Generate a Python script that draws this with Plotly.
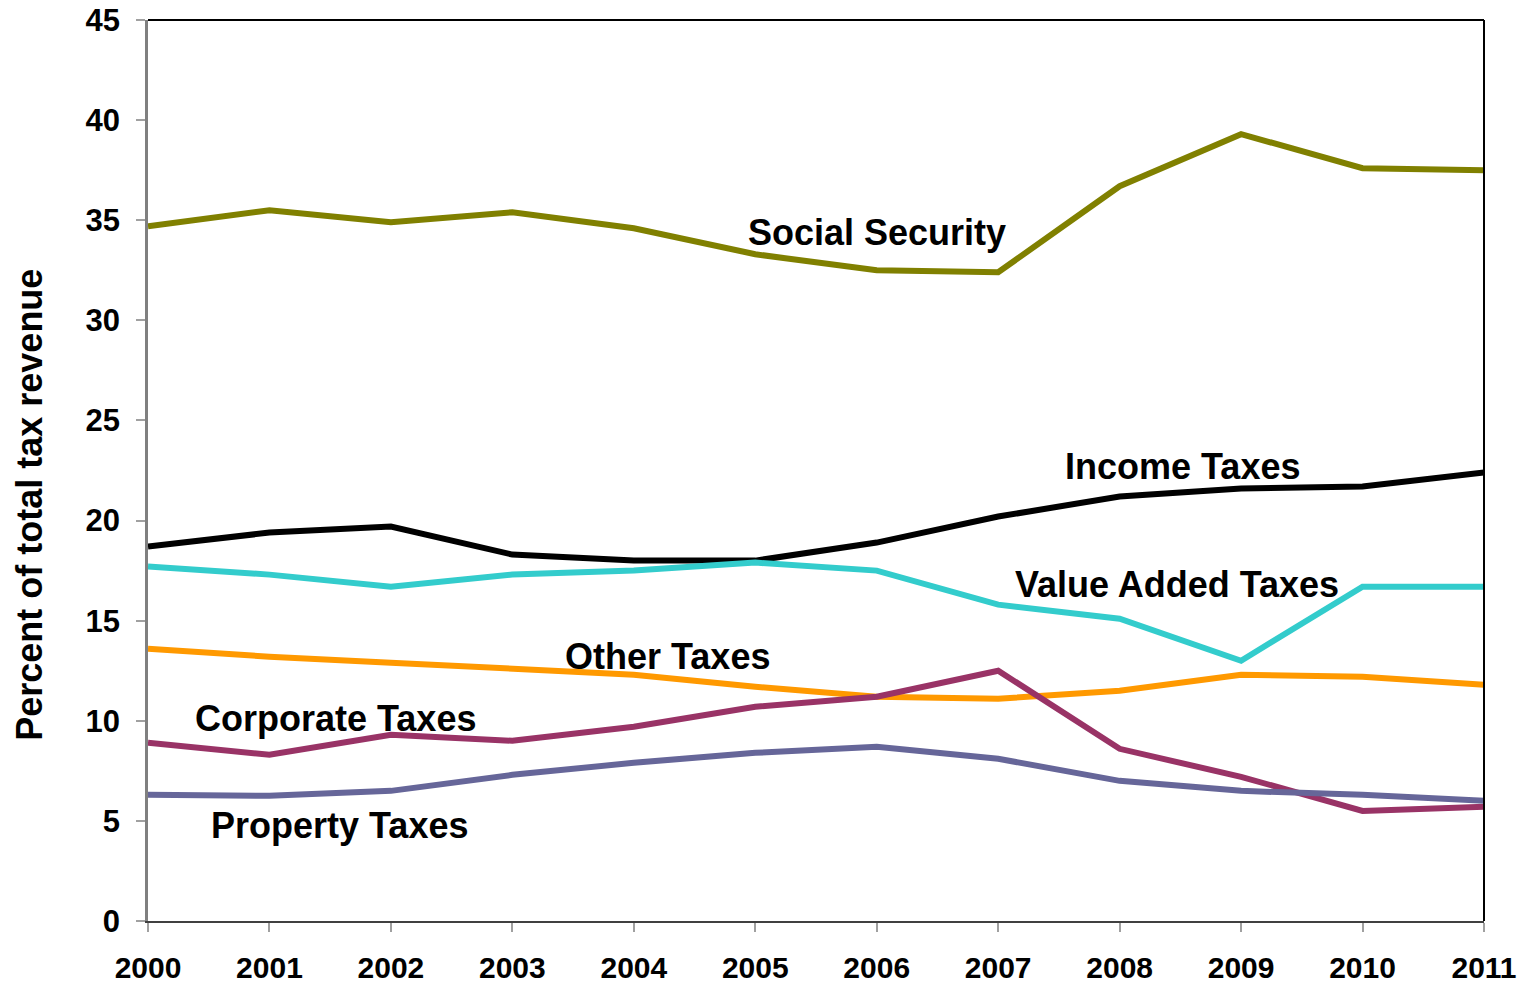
import plotly.graph_objects as go

years = list(range(2000, 2012))

social_security = [34.7, 35.5, 34.9, 35.4, 34.6, 33.3, 32.5, 32.4, 36.7, 39.3, 37.6, 37.5]
income_taxes = [18.7, 19.4, 19.7, 18.3, 18.0, 18.0, 18.9, 20.2, 21.2, 21.6, 21.7, 22.4]
value_added_taxes = [17.7, 17.3, 16.7, 17.3, 17.5, 17.9, 17.5, 15.8, 15.1, 13.0, 16.7, 16.7]
other_taxes = [13.6, 13.2, 12.9, 12.6, 12.3, 11.7, 11.2, 11.1, 11.5, 12.3, 12.2, 11.8]
corporate_taxes = [8.9, 8.3, 9.3, 9.0, 9.7, 10.7, 11.2, 12.5, 8.6, 7.2, 5.5, 5.7]
property_taxes = [6.3, 6.25, 6.5, 7.3, 7.9, 8.4, 8.7, 8.1, 7.0, 6.5, 6.3, 6.0]

series = [
    ("Social Security", social_security, "#808000"),
    ("Income Taxes", income_taxes, "#000000"),
    ("Value Added Taxes", value_added_taxes, "#33CCCC"),
    ("Other Taxes", other_taxes, "#FF9900"),
    ("Corporate Taxes", corporate_taxes, "#993366"),
    ("Property Taxes", property_taxes, "#666699"),
]

# label placement (x in years, y in percent)
labels = {
    "Social Security": (2006.0, 34.4),
    "Income Taxes": (2008.52, 22.7),
    "Value Added Taxes": (2008.47, 16.8),
    "Other Taxes": (2004.28, 13.2),
    "Corporate Taxes": (2001.54, 10.1),
    "Property Taxes": (2001.58, 4.75),
}

font_family = "Liberation Sans, Arial, sans-serif"

fig = go.Figure()
for name, vals, color in series:
    fig.add_trace(go.Scatter(
        x=years, y=vals, mode="lines", name=name,
        line=dict(color=color, width=6),
        showlegend=False,
    ))

for name, (lx, ly) in labels.items():
    fig.add_annotation(
        x=lx, y=ly, text="<b>%s</b>" % name, showarrow=False,
        font=dict(family=font_family, size=36, color="black"),
        xanchor="center", yanchor="middle",
    )

# y-axis title
fig.add_annotation(
    xref="paper", yref="paper", x=-0.0883, y=0.462,
    text="<b>Percent of total tax revenue</b>", textangle=-90, showarrow=False,
    font=dict(family=font_family, size=36, color="black"),
    xanchor="center", yanchor="middle",
)

# top and right frame lines
fig.add_shape(type="line", xref="paper", yref="paper", x0=0, x1=1, y0=1, y1=1,
              line=dict(color="black", width=2))
fig.add_shape(type="line", xref="paper", yref="paper", x0=1, x1=1, y0=0, y1=1,
              line=dict(color="black", width=2))

fig.update_layout(
    width=1526, height=988,
    margin=dict(l=148, r=42, t=20, b=67),
    plot_bgcolor="white", paper_bgcolor="white",
    font=dict(family=font_family, color="black"),
    xaxis=dict(
        range=[2000, 2011], tickmode="array", tickvals=years,
        ticktext=["<b>%d</b>" % y for y in years],
        tickfont=dict(size=30, family=font_family, color="black"),
        showgrid=False, zeroline=False, automargin=False,
        showline=True, linecolor="#404040", linewidth=2,
        ticks="outside", ticklen=9, tickcolor="#A0A0A0", tickwidth=1.5,
        ticklabelstandoff=10,
    ),
    yaxis=dict(
        range=[0, 45], tickmode="array", tickvals=list(range(0, 46, 5)),
        ticktext=["<b>%d</b>" % v for v in range(0, 46, 5)],
        tickfont=dict(size=31, family=font_family, color="black"),
        showgrid=False, zeroline=False, automargin=False,
        showline=True, linecolor="#808080", linewidth=2.5,
        ticks="outside", ticklen=9, tickcolor="#A0A0A0", tickwidth=1.5,
        ticklabelstandoff=10,
    ),
)

fig.write_html("out.html")
